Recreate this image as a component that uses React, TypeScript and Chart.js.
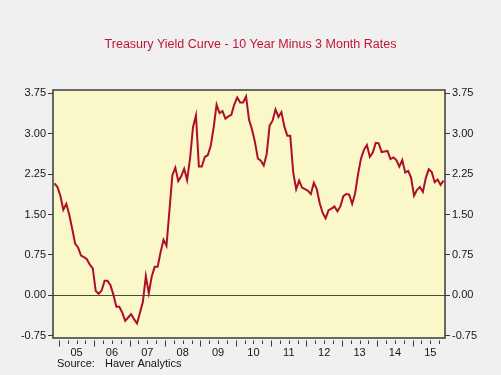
import React, { useEffect, useRef } from 'react';
import { Chart, registerables } from 'chart.js';

Chart.register(...registerables);

// Monthly 10-year minus 3-month Treasury spread, Nov 2004 .. Nov 2015 (percentage points)
const FIRST_MONTH_LABEL = 'Nov 2004';
const MONTHS_BEFORE_FIRST_JAN = 2; // Nov, Dec 2004
const SPREAD: number[] = [
  2.08, 2.01,
  1.85, 1.59, 1.70, 1.50, 1.24, 0.96, 0.89, 0.74, 0.71, 0.67, 0.57, 0.50,
  0.08, 0.03, 0.09, 0.27, 0.27, 0.19, 0.01, -0.21, -0.21, -0.32, -0.47, -0.41,
  -0.35, -0.44, -0.52, -0.32, -0.12, 0.36, 0.04, 0.35, 0.53, 0.53, 0.80, 1.03,
  0.92, 1.57, 2.23, 2.37, 2.12, 2.21, 2.35, 2.14, 2.54, 3.12, 3.34, 2.39,
  2.39, 2.57, 2.60, 2.77, 3.11, 3.54, 3.38, 3.42, 3.28, 3.32, 3.35, 3.54,
  3.67, 3.58, 3.58, 3.69, 3.26, 3.08, 2.85, 2.54, 2.50, 2.41, 2.62, 3.15,
  3.24, 3.45, 3.31, 3.40, 3.13, 2.96, 2.96, 2.28, 1.97, 2.13, 2.00, 1.97,
  1.94, 1.88, 2.09, 1.97, 1.71, 1.53, 1.43, 1.58, 1.61, 1.65, 1.56, 1.65,
  1.84, 1.88, 1.87, 1.70, 1.89, 2.25, 2.54, 2.70, 2.79, 2.57, 2.65, 2.83,
  2.82, 2.66, 2.67, 2.68, 2.53, 2.56, 2.51, 2.39, 2.51, 2.28, 2.31, 2.18,
  1.85, 1.96, 2.01, 1.92, 2.18, 2.34, 2.29, 2.10, 2.15, 2.05, 2.13,
];

const YEAR_LABELS: string[] = ['05', '06', '07', '08', '09', '10', '11', '12', '13', '14', '15'];
const Y_TICKS: number[] = [-0.75, 0, 0.75, 1.5, 2.25, 3.0, 3.75];
const Y_MIN = -0.79;
const Y_MAX = 3.81;

const TITLE = 'Treasury Yield Curve - 10 Year Minus 3 Month Rates';
const SOURCE_LABEL = 'Source:';
const SOURCE_NAME = 'Haver Analytics';

const FONT = "'Liberation Sans', Arial, sans-serif";
const LINE_COLOR = '#AE0E2C';
const TITLE_COLOR = '#C0143C';
const PLOT_BG = '#FAF8C9';
const PAGE_BG = '#F0F0F0';
const FRAME_COLOR = '#3A3A3A';
const TEXT_COLOR = '#151515';

const firstJanBoundary = MONTHS_BEFORE_FIRST_JAN - 0.5;

const decorPlugin = {
  id: 'decor',
  beforeDraw(chart: any) {
    const { ctx, chartArea } = chart;
    ctx.save();
    ctx.fillStyle = PAGE_BG;
    ctx.fillRect(0, 0, chart.width, chart.height);
    ctx.fillStyle = PLOT_BG;
    ctx.fillRect(chartArea.left, chartArea.top, chartArea.right - chartArea.left, chartArea.bottom - chartArea.top);
    ctx.restore();
  },
  afterDraw(chart: any) {
    const { ctx, chartArea } = chart;
    const x = chart.scales.x;
    ctx.save();
    // frame
    ctx.strokeStyle = FRAME_COLOR;
    ctx.lineWidth = 1.5;
    ctx.strokeRect(chartArea.left, chartArea.top, chartArea.right - chartArea.left, chartArea.bottom - chartArea.top);
    // quarterly / yearly tick marks below the plot
    ctx.lineWidth = 1;
    ctx.beginPath();
    let k = 0;
    for (let b = firstJanBoundary; b <= x.max; b += 3, k++) {
      const px = Math.round(x.getPixelForValue(b)) + 0.5;
      const len = k % 4 === 0 ? 6 : 3.5;
      ctx.moveTo(px, chartArea.bottom + 2.5);
      ctx.lineTo(px, chartArea.bottom + 2.5 + len);
    }
    ctx.stroke();
    // source note
    ctx.fillStyle = TEXT_COLOR;
    ctx.font = `11px ${FONT}`;
    ctx.textBaseline = 'middle';
    ctx.textAlign = 'left';
    ctx.fillText(SOURCE_LABEL, chartArea.left + 4, 364);
    ctx.fillText(SOURCE_NAME, chartArea.left + 52, 364);
    ctx.restore();
  },
};

export default function App() {
  const ref = useRef<HTMLCanvasElement | null>(null);

  useEffect(() => {
    if (!ref.current) return;
    const points = SPREAD.map((v, i) => ({ x: i, y: v }));
    const yearCenters = YEAR_LABELS.map((_, i) => firstJanBoundary + 6 + 12 * i);

    const tickFont = { family: FONT, size: 11 };

    const chart = new Chart(ref.current, {
      type: 'line',
      data: {
        datasets: [
          {
            label: FIRST_MONTH_LABEL,
            data: points,
            borderColor: LINE_COLOR,
            borderWidth: 2,
            pointRadius: 0,
            tension: 0,
            fill: false,
          },
        ],
      },
      options: {
        responsive: false,
        devicePixelRatio: 1,
        animation: false,
        events: [],
        layout: { padding: 0 },
        plugins: {
          legend: { display: false },
          tooltip: { enabled: false },
          title: {
            display: true,
            text: TITLE,
            color: TITLE_COLOR,
            font: { family: FONT, size: 12.5, weight: 'normal', lineHeight: 1.2 },
            padding: { top: 36.7, bottom: 38.3 },
          },
        },
        scales: {
          x: {
            type: 'linear',
            position: 'bottom',
            min: -0.5,
            max: SPREAD.length - 0.5,
            afterFit: (s: any) => { s.height = 37; },
            afterBuildTicks: (s: any) => { s.ticks = yearCenters.map((v) => ({ value: v })); },
            grid: { display: true, drawOnChartArea: false, drawTicks: false },
            border: { display: false },
            ticks: {
              autoSkip: false,
              maxRotation: 0,
              padding: 8,
              color: TEXT_COLOR,
              font: tickFont,
              callback: (_v: any, i: number) => YEAR_LABELS[i],
            },
          },
          y: {
            type: 'linear',
            position: 'left',
            min: Y_MIN,
            max: Y_MAX,
            afterFit: (s: any) => { s.width = 53; },
            afterBuildTicks: (s: any) => { s.ticks = Y_TICKS.map((v) => ({ value: v })); },
            grid: {
              display: true,
              drawOnChartArea: true,
              drawTicks: true,
              tickLength: 5,
              tickColor: FRAME_COLOR,
              lineWidth: 1,
              color: (c: any) => (c.tick && c.tick.value === 0 ? '#4B4B3C' : 'rgba(0,0,0,0)'),
            },
            border: { display: false },
            ticks: {
              padding: 2,
              color: TEXT_COLOR,
              font: tickFont,
              callback: (v: any) => Number(v).toFixed(2),
            },
          },
          y2: {
            type: 'linear',
            position: 'right',
            min: Y_MIN,
            max: Y_MAX,
            afterFit: (s: any) => { s.width = 56; },
            afterBuildTicks: (s: any) => { s.ticks = Y_TICKS.map((v) => ({ value: v })); },
            grid: {
              display: true,
              drawOnChartArea: false,
              drawTicks: true,
              tickLength: 5,
              tickColor: FRAME_COLOR,
            },
            border: { display: false },
            ticks: {
              padding: 2,
              color: TEXT_COLOR,
              font: tickFont,
              callback: (v: any) => Number(v).toFixed(2),
            },
          },
        },
      } as any,
      plugins: [decorPlugin],
    });

    return () => chart.destroy();
  }, []);

  return (
    <div style={{ position: 'fixed', left: 0, top: 0, width: 501, height: 375, background: PAGE_BG }}>
      <canvas ref={ref} width={501} height={375} style={{ display: 'block', width: 501, height: 375 }} />
    </div>
  );
}
